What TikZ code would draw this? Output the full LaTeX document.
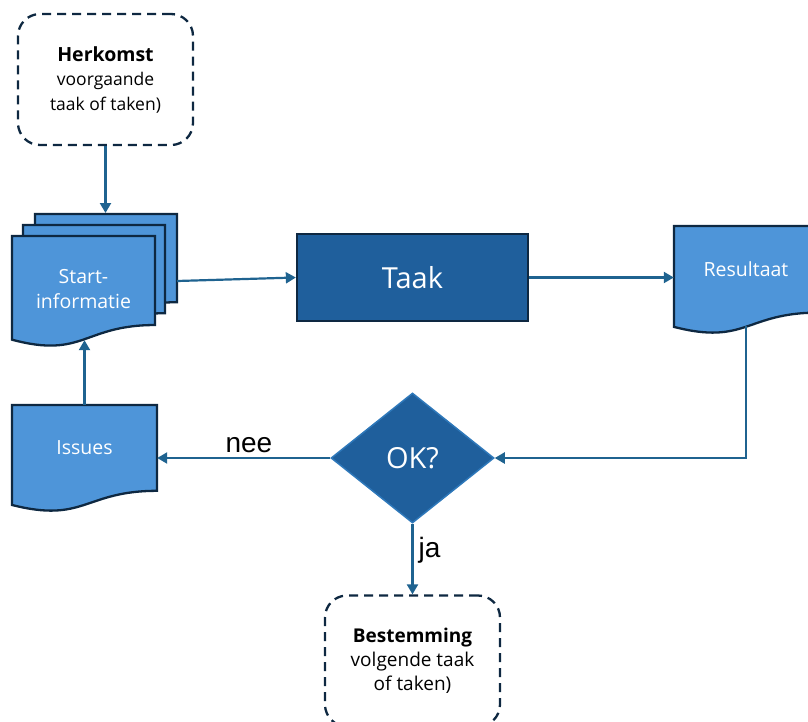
\documentclass[tikz,border=0pt]{standalone}
\usepackage{fontspec}
\setmainfont{Open Sans}
\newfontfamily\lblfont{Liberation Sans}
\usetikzlibrary{shapes.geometric,arrows.meta}
\definecolor{docfill}{HTML}{4E95D9}
\definecolor{taakfill}{HTML}{1F5F9C}
\definecolor{navy}{HTML}{0E2841}
\definecolor{arrowc}{HTML}{1F6390}
\definecolor{okborder}{HTML}{2E78BA}
\newcommand\docshp[4]{% left, top, width, height
  \draw[docstyle] (#1,#2) -- ({#1+#3},#2) -- ({#1+#3},{#2+0.802*#4})
    .. controls ({#1+0.5*#3},{#2+0.802*#4}) and ({#1+0.5*#3},{#2+1.107*#4}) .. (#1,{#2+0.934*#4}) -- cycle;}
\begin{document}
\begin{tikzpicture}[x=1pt,y=-1pt,
  docstyle/.style={fill=docfill,draw=navy,line width=2.3pt,line join=miter},
  dashbox/.style={draw=navy,line width=2.3pt,rounded corners=22pt,dash pattern=on 9pt off 6pt,minimum width=175pt,minimum height=131pt,inner sep=0pt,align=center},
  ghost/.style={inner sep=0pt},
  wtext/.style={text=white,align=center,font=\fontsize{19.5}{25}\selectfont},
  conn/.style={draw=arrowc,line width=2.2pt,-{Triangle[length=10pt,width=11pt]}},
  lbl/.style={font=\lblfont\fontsize{28}{30}\selectfont,text=black,inner sep=2pt}]
\useasboundingbox (0,0) rectangle (808,721);

% Herkomst
\node[dashbox,font=\fontsize{17.5}{24.5}\selectfont] (her) at (105.5,79.5) {{\fontsize{19.5}{24.5}\selectfont\textbf{Herkomst}}\\voorgaande\\taak of taken)};

% Start-informatie stack
\docshp{35}{214}{142}{110}
\docshp{23}{225}{142}{110}
\docshp{12}{236}{143}{111}
\node[ghost,minimum width=143pt,minimum height=104pt] (si) at (83.5,288) {};
\node[wtext] at (83.5,289) {Start-\\informatie};
\coordinate (stktop) at (105.5,213);
\coordinate (stkright) at (177,281);

% Taak
\node[fill=taakfill,draw=navy,line width=2.3pt,minimum width=231pt,minimum height=87pt,inner sep=0pt,text=white,font=\fontsize{29}{32}\selectfont] (taak) at (412.5,277.5) {Taak};

% Resultaat
\docshp{674}{226}{144}{108}
\node[ghost,minimum width=144pt,minimum height=100pt] (res) at (746,276) {};
\node[wtext] at (746,269) {Resultaat};

% OK diamond
\node[diamond,fill=taakfill,draw=okborder,line width=1.5pt,minimum width=163pt,minimum height=130pt,inner sep=0pt,text=white,font=\fontsize{29}{32}\selectfont] (ok) at (412.5,458) {OK?};

% Issues
\docshp{12}{405}{145}{107}
\node[ghost,minimum width=145pt,minimum height=100pt] (iss) at (84.5,455) {};
\node[wtext] at (84.5,448) {Issues};

% Bestemming
\node[dashbox,font=\fontsize{19}{24}\selectfont] (bes) at (412.5,661) {\textbf{Bestemming}\\volgende taak\\of taken)};

% connectors
\draw[conn] (her.south) -- (stktop);
\draw[conn] (stkright) -- (taak.west);
\draw[conn] (taak.east) -- (res.west |- taak.east);
\draw[conn] (res.south) |- (ok.east);
\draw[conn] (ok.west) -- (ok.west -| iss.east) node[lbl,pos=0.47,above=2pt] {nee};
\draw[conn] (iss.north) -- (iss.north |- si.south);
\draw[conn] (ok.south) -- (bes.north) node[lbl,pos=0.38,right=3pt] {ja};
\end{tikzpicture}
\end{document}
